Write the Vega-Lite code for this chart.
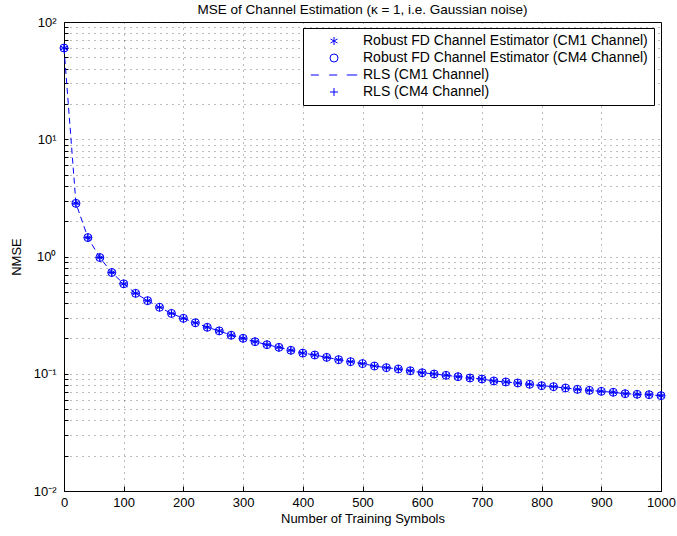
{
  "$schema": "https://vega.github.io/schema/vega-lite/v6.json",
  "width": 597,
  "height": 469,
  "autosize": {"type": "none"},
  "padding": {"left": 64, "top": 22, "right": 16, "bottom": 45},
  "background": "white",
  "config": {
    "font": "Liberation Sans",
    "view": {"stroke": "#000", "strokeWidth": 1}
  },
  "title": {
    "text": "MSE of Channel Estimation (κ = 1, i.e. Gaussian noise)",
    "fontSize": 13.5,
    "fontWeight": "normal",
    "color": "#000",
    "offset": 3,
    "dy": 3
  },
  "data": {
    "values": [
      {"N": 0, "nmse": 60},
      {"N": 20, "nmse": 2.84},
      {"N": 40, "nmse": 1.45},
      {"N": 60, "nmse": 0.98},
      {"N": 80, "nmse": 0.73},
      {"N": 100, "nmse": 0.585},
      {"N": 120, "nmse": 0.485},
      {"N": 140, "nmse": 0.42},
      {"N": 160, "nmse": 0.369},
      {"N": 180, "nmse": 0.327},
      {"N": 200, "nmse": 0.297},
      {"N": 220, "nmse": 0.272},
      {"N": 240, "nmse": 0.249},
      {"N": 260, "nmse": 0.232},
      {"N": 280, "nmse": 0.213},
      {"N": 300, "nmse": 0.2005},
      {"N": 320, "nmse": 0.1876},
      {"N": 340, "nmse": 0.177},
      {"N": 360, "nmse": 0.168},
      {"N": 380, "nmse": 0.1585},
      {"N": 400, "nmse": 0.15},
      {"N": 420, "nmse": 0.1445},
      {"N": 440, "nmse": 0.138},
      {"N": 460, "nmse": 0.1318},
      {"N": 480, "nmse": 0.1267},
      {"N": 500, "nmse": 0.122},
      {"N": 520, "nmse": 0.1164},
      {"N": 540, "nmse": 0.1127},
      {"N": 560, "nmse": 0.1098},
      {"N": 580, "nmse": 0.106},
      {"N": 600, "nmse": 0.102},
      {"N": 620, "nmse": 0.0995},
      {"N": 640, "nmse": 0.097},
      {"N": 660, "nmse": 0.0944},
      {"N": 680, "nmse": 0.092},
      {"N": 700, "nmse": 0.0902},
      {"N": 720, "nmse": 0.0868},
      {"N": 740, "nmse": 0.0851},
      {"N": 760, "nmse": 0.0834},
      {"N": 780, "nmse": 0.0813},
      {"N": 800, "nmse": 0.0791},
      {"N": 820, "nmse": 0.0776},
      {"N": 840, "nmse": 0.0756},
      {"N": 860, "nmse": 0.0736},
      {"N": 880, "nmse": 0.0722},
      {"N": 900, "nmse": 0.0708},
      {"N": 920, "nmse": 0.0695},
      {"N": 940, "nmse": 0.0676},
      {"N": 960, "nmse": 0.0668},
      {"N": 980, "nmse": 0.0663},
      {"N": 1000, "nmse": 0.065}
    ]
  },
  "encoding": {
    "x": {
      "field": "N",
      "type": "quantitative",
      "scale": {"domain": [0, 1000], "nice": false, "zero": false},
      "axis": {
        "values": [0, 100, 200, 300, 400, 500, 600, 700, 800, 900, 1000],
        "format": "d",
        "title": "Number of Training Symbols",
        "titleFontSize": 13,
        "titleFontWeight": "normal",
        "titleColor": "#000",
        "titlePadding": 3,
        "labelFontSize": 13,
        "labelColor": "#000",
        "labelPadding": 10,
        "labelFlush": false,
        "domainColor": "#000",
        "tickColor": "#000",
        "tickSize": -5,
        "grid": true,
        "gridColor": "#222",
        "gridDash": [1, 5],
        "gridOpacity": 0.6
      }
    },
    "y": {
      "field": "nmse",
      "type": "quantitative",
      "scale": {"type": "log", "domain": [0.01, 100], "nice": false},
      "axis": {
        "values": [0.01, 0.02, 0.03, 0.04, 0.05, 0.06, 0.07, 0.08, 0.09, 0.1, 0.2, 0.3, 0.4, 0.5, 0.6, 0.7, 0.8, 0.9, 1, 2, 3, 4, 5, 6, 7, 8, 9, 10, 20, 30, 40, 50, 60, 70, 80, 90, 100],
        "labelExpr": "abs(log(datum.value)/LN10 - round(log(datum.value)/LN10)) < 0.001 ? ['10⁻²','10⁻¹','10⁰','10¹','10²'][round(log(datum.value)/LN10)+2] : ''",
        "title": "NMSE",
        "titleFontSize": 13,
        "titleFontWeight": "normal",
        "titleColor": "#000",
        "titlePadding": 10,
        "labelFontSize": 13,
        "labelColor": "#000",
        "labelPadding": 12,
        "labelFlush": false,
        "domainColor": "#000",
        "tickColor": "#000",
        "tickSize": -4,
        "grid": true,
        "gridColor": "#222",
        "gridDash": [1, 5],
        "gridOpacity": 0.6
      }
    }
  },
  "layer": [
    {
      "mark": {"type": "line", "color": "#0000ff", "strokeWidth": 1, "strokeDash": [6, 4]}
    },
    {
      "mark": {"type": "point", "filled": false, "color": "#0000ff", "size": 64, "strokeWidth": 1, "opacity": 1},
      "encoding": {
        "shape": {
          "datum": "Robust FD Channel Estimator (CM4 Channel)",
          "type": "nominal",
          "scale": {
            "domain": ["Robust FD Channel Estimator (CM1 Channel)", "Robust FD Channel Estimator (CM4 Channel)", "RLS (CM1 Channel)", "RLS (CM4 Channel)"],
            "range": ["M0,-1V1M-0.87,-0.5L0.87,0.5M-0.87,0.5L0.87,-0.5", "circle", "M-5.8,0H-3.8M-1.2,0H0.8M3.2,0H5.8", "M-1,0H1M0,-1V1"]
          },
          "legend": {
            "title": null,
            "orient": "none",
            "legendX": 239,
            "legendY": 6,
            "fillColor": "white",
            "strokeColor": "#000",
            "padding": 6,
            "labelFontSize": 14,
            "labelColor": "#000",
            "labelOffset": 22,
            "symbolOffset": 18,
            "symbolSize": 64,
            "symbolStrokeColor": "#0000ff",
            "symbolFillColor": "transparent",
            "symbolStrokeWidth": 1,
            "rowPadding": 3,
            "labelLimit": 400
          }
        }
      }
    },
    {
      "mark": {"type": "point", "filled": false, "color": "#0000ff", "size": 64, "strokeWidth": 1, "opacity": 1},
      "encoding": {
        "shape": {"datum": "Robust FD Channel Estimator (CM1 Channel)", "type": "nominal"}
      }
    },
    {
      "mark": {"type": "point", "filled": false, "color": "#0000ff", "size": 64, "strokeWidth": 1, "opacity": 1},
      "encoding": {
        "shape": {"datum": "RLS (CM4 Channel)", "type": "nominal"}
      }
    }
  ]
}
